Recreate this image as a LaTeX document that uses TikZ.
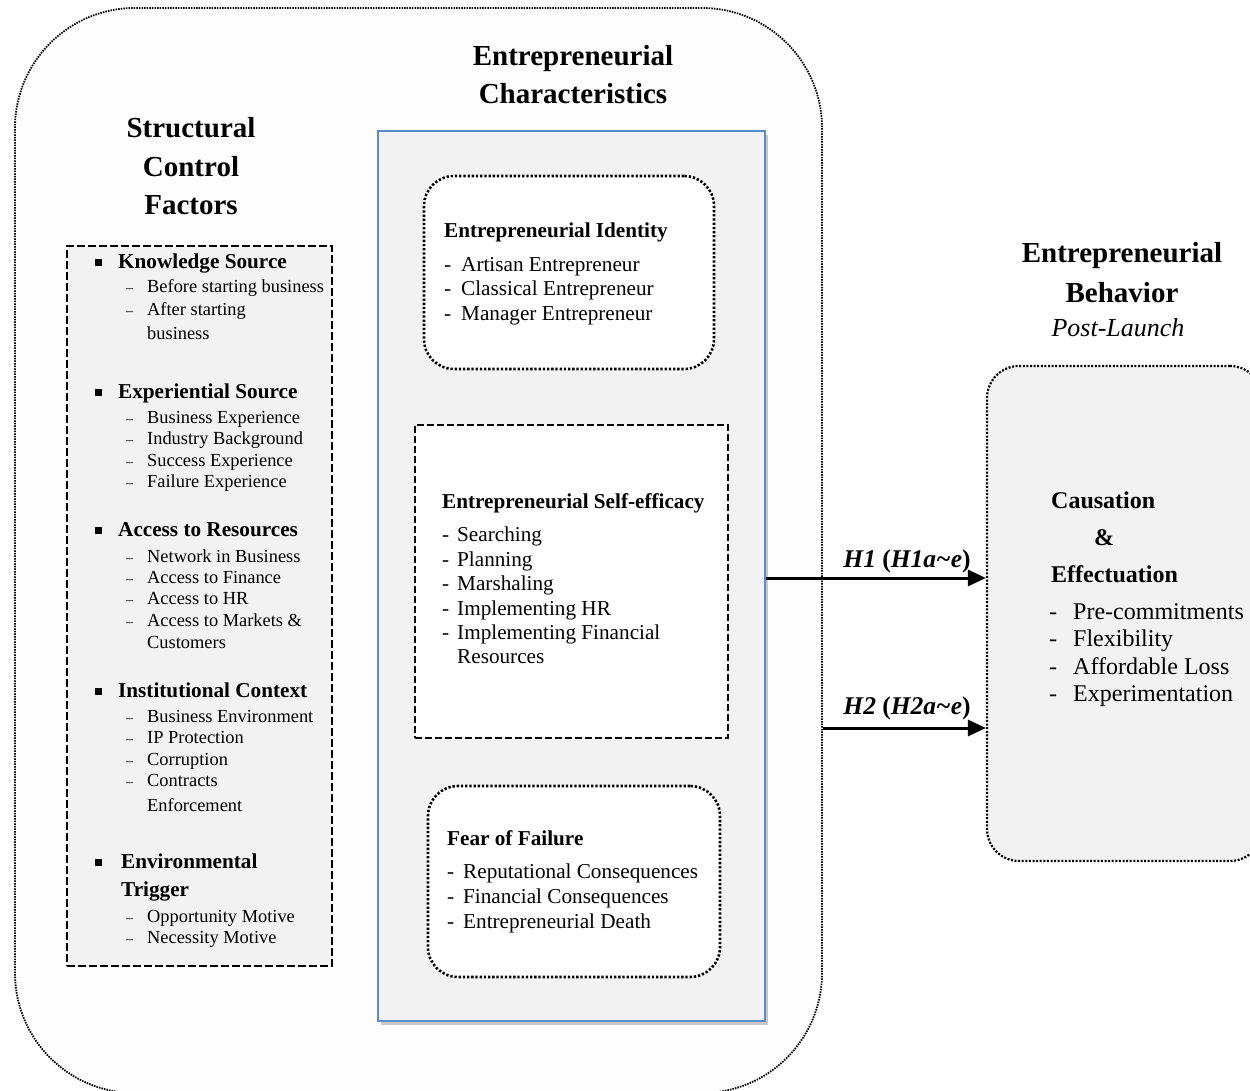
\documentclass[tikz,border=0pt]{standalone}
\usepackage{fontspec}
\setmainfont{Liberation Serif}
\usetikzlibrary{arrows.meta,shadows}
\definecolor{boxgray}{HTML}{F2F2F2}
\definecolor{outerfill}{HTML}{FDFDFD}
\definecolor{frameblue}{HTML}{5B8BC9}
\newcommand\fsz[1]{\fontsize{#1pt}{#1pt}\selectfont}
\begin{document}
\begin{tikzpicture}[x=1pt,y=-1pt,
  outerbox/.style={draw=black, line width=1.8pt, dash pattern=on 1.5pt off 1.1pt, fill=outerfill, rounded corners=120pt, inner sep=0, minimum width=807pt, minimum height=1085pt},
  centerbox/.style={draw=frameblue, line width=1.5pt, fill=boxgray, inner sep=0, minimum width=387pt, minimum height=890pt, drop shadow={shadow xshift=3pt, shadow yshift=-4pt, opacity=0.35, fill=black!60}},
  dotbox/.style={draw=black, line width=2.6pt, dash pattern=on 2.3pt off 1.9pt, fill=white, rounded corners=30pt, inner sep=0},
  dashbox/.style={draw=black, line width=2pt, dash pattern=on 7pt off 3pt, inner sep=0},
  rightbox/.style={draw=black, line width=2.2pt, dash pattern=on 2pt off 1.6pt, fill=boxgray, rounded corners=32pt, inner sep=0, minimum width=275pt, minimum height=495pt},
  ttl/.style={font=\bfseries\fsz{29}, anchor=base, inner sep=0},
  hdL/.style={font=\bfseries\fsz{21.2}, anchor=base west, inner sep=0},
  subL/.style={font=\fsz{18.4}, anchor=base west, inner sep=0},
  dashL/.style={font=\fsz{14}, anchor=base west, inner sep=0},
  bulL/.style={fill=black, minimum size=7pt, inner sep=0},
  hdC/.style={font=\bfseries\fsz{21.2}, anchor=base west, inner sep=0},
  itC/.style={font=\fsz{21.2}, anchor=base west, inner sep=0},
  hdR/.style={font=\bfseries\fsz{24}, anchor=base west, inner sep=0},
  itR/.style={font=\fsz{24}, anchor=base west, inner sep=0},
  hlab/.style={font=\bfseries\fsz{25.5}, anchor=base, inner sep=0},
  arr/.style={line width=3pt, -{Triangle[length=18pt,width=16pt]}}
]
\clip (0,0) rectangle (1250,1091);
\fill[white] (0,0) rectangle (1250,1091);

% outer container
\node[outerbox] (outer) at (418.5,550.5) {};

% titles
\node[ttl] (st1) at (191,138) {Structural};
\node[ttl] (st2) at (191,177) {Control};
\node[ttl] (st3) at (191,215) {Factors};
\node[ttl] (ec1) at (573,66) {Entrepreneurial};
\node[ttl] (ec2) at (573,104) {Characteristics};
\node[ttl] (eb1) at (1122,263) {Entrepreneurial};
\node[ttl] (eb2) at (1122,302) {Behavior};
\node[font=\itshape\fsz{26}, anchor=base, inner sep=0] (eb3) at (1118,336) {Post-Launch};

% left box
\node[dashbox, fill=boxgray, line width=2.4pt, dash pattern=on 8pt off 3pt, minimum width=265pt, minimum height=720pt] (lbox) at (199.5,606) {};

\node[bulL] (knb) at (98,263) {};
\node[hdL] (kn) at (118,269) {Knowledge Source};
\node[dashL] (k1d) at (126,293) {–}; \node[subL] (k1) at (147,293) {Before starting business};
\node[dashL] (k2d) at (126,316) {–}; \node[subL] (k2) at (147,316) {After starting};
\node[subL] (k3) at (147,339) {business};

\node[bulL] (exb) at (98,392) {};
\node[hdL] (ex) at (118,398) {Experiential Source};
\node[dashL] (e1d) at (126,423) {–}; \node[subL] (e1) at (147,423) {Business Experience};
\node[dashL] (e2d) at (126,444) {–}; \node[subL] (e2) at (147,444) {Industry Background};
\node[dashL] (e3d) at (126,466) {–}; \node[subL] (e3) at (147,466) {Success Experience};
\node[dashL] (e4d) at (126,487) {–}; \node[subL] (e4) at (147,487) {Failure Experience};

\node[bulL] (acb) at (98,530) {};
\node[hdL] (ac) at (118,536) {Access to Resources};
\node[dashL] (a1d) at (126,562) {–}; \node[subL] (a1) at (147,562) {Network in Business};
\node[dashL] (a2d) at (126,583) {–}; \node[subL] (a2) at (147,583) {Access to Finance};
\node[dashL] (a3d) at (126,604) {–}; \node[subL] (a3) at (147,604) {Access to HR};
\node[dashL] (a4d) at (126,626) {–}; \node[subL] (a4) at (147,626) {Access to Markets \&};
\node[subL] (a5) at (147,648) {Customers};

\node[bulL] (icb) at (98,691) {};
\node[hdL] (ic) at (118,697) {Institutional Context};
\node[dashL] (i1d) at (126,722) {–}; \node[subL] (i1) at (147,722) {Business Environment};
\node[dashL] (i2d) at (126,743) {–}; \node[subL] (i2) at (147,743) {IP Protection};
\node[dashL] (i3d) at (126,765) {–}; \node[subL] (i3) at (147,765) {Corruption};
\node[dashL] (i4d) at (126,786) {–}; \node[subL] (i4) at (147,786) {Contracts};
\node[subL] (i5) at (147,811) {Enforcement};

\node[bulL] (enb) at (98,862) {};
\node[hdL] (en) at (121,868) {Environmental};
\node[hdL] (en2) at (121,896) {Trigger};
\node[dashL] (o1d) at (126,922) {–}; \node[subL] (o1) at (147,922) {Opportunity Motive};
\node[dashL] (o2d) at (126,943) {–}; \node[subL] (o2) at (147,943) {Necessity Motive};

% center box
\node[centerbox] (cbox) at (571.5,576) {};

\node[dotbox, minimum width=290pt, minimum height=193pt] (idbox) at (569,272.5) {};
\node[hdC] (idh) at (444,238) {Entrepreneurial Identity};
\node[itC] (id1d) at (444,272) {-}; \node[itC] (id1) at (461,272) {Artisan Entrepreneur};
\node[itC] (id2d) at (444,296) {-}; \node[itC] (id2) at (461,296) {Classical Entrepreneur};
\node[itC] (id3d) at (444,320) {-}; \node[itC] (id3) at (461,320) {Manager Entrepreneur};

\node[dashbox, fill=white, minimum width=313pt, minimum height=313pt] (sebox) at (571.5,581.5) {};
\node[hdC] (seh) at (442,508) {Entrepreneurial Self-efficacy};
\node[itC] (se1d) at (442,541) {-}; \node[itC] (se1) at (457,541) {Searching};
\node[itC] (se2d) at (442,566) {-}; \node[itC] (se2) at (457,566) {Planning};
\node[itC] (se3d) at (442,590) {-}; \node[itC] (se3) at (457,590) {Marshaling};
\node[itC] (se4d) at (442,615) {-}; \node[itC] (se4) at (457,615) {Implementing HR};
\node[itC] (se5d) at (442,639) {-}; \node[itC] (se5) at (457,639) {Implementing Financial};
\node[itC] (se6) at (457,663) {Resources};

\node[dotbox, minimum width=292pt, minimum height=191pt] (ffbox) at (574,881.5) {};
\node[hdC] (ffh) at (447,845) {Fear of Failure};
\node[itC] (ff1d) at (447,878) {-}; \node[itC] (ff1) at (463,878) {Reputational Consequences};
\node[itC] (ff2d) at (447,903) {-}; \node[itC] (ff2) at (463,903) {Financial Consequences};
\node[itC] (ff3d) at (447,928) {-}; \node[itC] (ff3) at (463,928) {Entrepreneurial Death};

% right box
\node[rightbox] (rbox) at (1124.5,613.5) {};
\node[hdR] (rc) at (1051,508) {Causation};
\node[hdR] (ra) at (1094,545) {\&};
\node[hdR] (re) at (1051,582) {Effectuation};
\node[itR] (r1d) at (1049,619) {-}; \node[itR] (r1) at (1073,619) {Pre-commitments};
\node[itR] (r2d) at (1049,646) {-}; \node[itR] (r2) at (1073,646) {Flexibility};
\node[itR] (r3d) at (1049,674) {-}; \node[itR] (r3) at (1073,674) {Affordable Loss};
\node[itR] (r4d) at (1049,701) {-}; \node[itR] (r4) at (1073,701) {Experimentation};

% arrows
\coordinate (h1) at (0,578);
\coordinate (h2) at (0,728);
\draw[arr] (cbox.east |- h1) -- (rbox.west |- h1);
\draw[arr] (outer.east |- h2) -- (rbox.west |- h2);
\node[hlab] (h1lab) at (907,567) {\textit{H1} (\textit{H1a\textasciitilde e})};
\node[hlab] (h2lab) at (907,714) {\textit{H2} (\textit{H2a\textasciitilde e})};
\end{tikzpicture}
\end{document}
